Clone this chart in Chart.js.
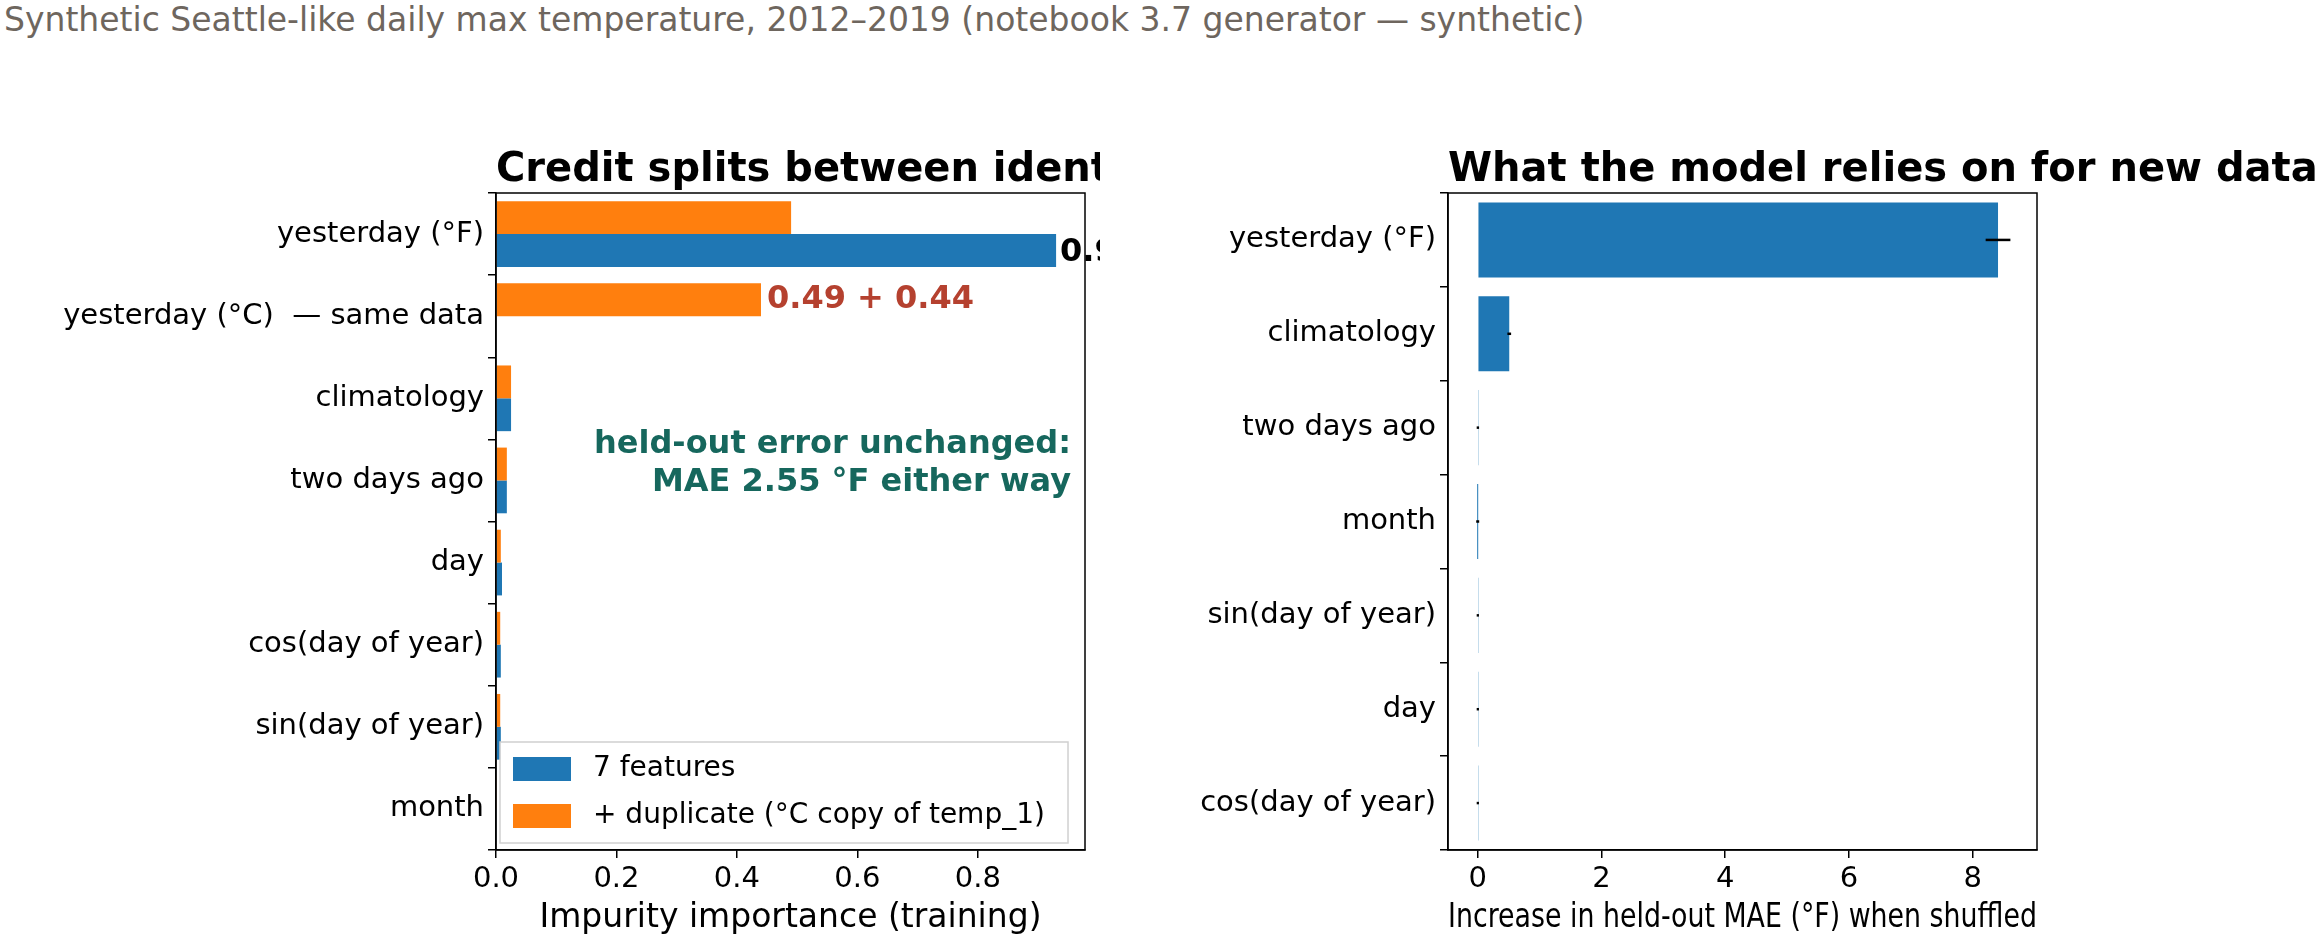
<!DOCTYPE html>
<html>
<head>
<meta charset="utf-8">
<script src="https://cdn.jsdelivr.net/npm/chart.js@4"></script>
<style>
  body { margin: 0; background: #fff; width: 2315px; height: 942px; position: relative; overflow: hidden; font-family: 'DejaVu Sans', sans-serif; }
  #suptitle { position: absolute; left: 4px; top: 0px; font-size: 33px; color: #6e665e; white-space: nowrap; }
  canvas { position: absolute; top: 0; }
</style>
</head>
<body>
<div id="suptitle">Synthetic Seattle-like daily max temperature, 2012–2019 (notebook 3.7 generator — synthetic)</div>
<canvas id="impurity" width="1100" height="942" style="left:0;width:1100px;height:942px"></canvas>
<canvas id="permutation" width="1215" height="942" style="left:1100px;width:1215px;height:942px"></canvas>
<script>
'use strict';

const impurityLabels = ['yesterday (°F)', 'yesterday (°C)  — same data', 'climatology', 'two days ago', 'day', 'cos(day of year)', 'sin(day of year)', 'month'];
const sevenFeatures = [0.93, null, 0.025, 0.018, 0.010, 0.008, 0.008, 0.001];
const withDuplicate = [0.49, 0.44, 0.025, 0.018, 0.008, 0.007, 0.007, 0.001];
const impurityTicks = [0, 0.2, 0.4, 0.6, 0.8];

const permLabels = ['yesterday (°F)', 'climatology', 'two days ago', 'month', 'sin(day of year)', 'day', 'cos(day of year)'];
const permMeans = [8.41, 0.51, 0.003, 0.0, 0.002, 0.002, 0.002];
const permStd = [0.2, 0.03, 0.005, 0.0, 0.006, 0.006, 0.006];
const permTicks = [0, 2, 4, 6, 8];

const BLUE = '#1f77b4';
const ORANGE = '#ff7f0e';
const FONT = "'DejaVu Sans', sans-serif";
Chart.defaults.font.family = FONT;
Chart.defaults.color = '#000';

function frameAndTitle(title) {
  return {
    id: 'frameAndTitle',
    afterDraw(chart) {
      const { ctx, chartArea: a } = chart;
      ctx.save();
      ctx.strokeStyle = '#000';
      ctx.lineWidth = 1.5;
      ctx.strokeRect(a.left, a.top, a.right - a.left, a.bottom - a.top);
      ctx.font = 'bold 40px ' + FONT;
      ctx.fillStyle = '#000';
      ctx.textAlign = 'left';
      ctx.textBaseline = 'alphabetic';
      ctx.fillText(title, a.left, a.top - 12);
      ctx.restore();
    }
  };
}

function axisOptions(min, max, ticks, fmt, title, yWidth) {
  return {
    x: {
      type: 'linear', min, max,
      afterBuildTicks: s => { s.ticks = ticks.map(v => ({ value: v })); },
      afterFit: s => { s.height = 92; },
      ticks: { font: { size: 29 }, callback: fmt, padding: 4, maxRotation: 0 },
      grid: { display: true, drawOnChartArea: false, tickLength: 8, color: '#000', lineWidth: 1.5 },
      border: { display: true, color: '#000', width: 1.5 },
      title: { display: true, text: title, font: { size: 33 }, padding: { top: 4 } }
    },
    y: {
      afterFit: s => { s.width = yWidth; },
      ticks: { font: { size: 29 }, padding: 4, autoSkip: false },
      grid: { display: true, drawOnChartArea: false, tickLength: 8, color: '#000', lineWidth: 1.5 },
      border: { display: true, color: '#000', width: 1.5 }
    }
  };
}

const impurityNotes = {
  id: 'impurityNotes',
  afterDraw(chart) {
    const { ctx, chartArea: a } = chart;
    const dup = chart.getDatasetMeta(0).data;
    const seven = chart.getDatasetMeta(1).data;
    ctx.save();
    ctx.textBaseline = 'middle';
    ctx.textAlign = 'left';
    ctx.font = 'bold 32px ' + FONT;
    ctx.fillStyle = '#000';
    ctx.fillText(sevenFeatures[0].toFixed(2), seven[0].x + 4, seven[0].y + 2);
    ctx.fillStyle = '#b5412f';
    ctx.fillText(withDuplicate[0].toFixed(2) + ' + ' + withDuplicate[1].toFixed(2), dup[1].x + 6, dup[1].y);
    ctx.fillStyle = '#16675d';
    ctx.textAlign = 'right';
    ctx.fillText('held-out error unchanged:', a.right - 14, 445);
    ctx.fillText('MAE 2.55 °F either way', a.right - 14, 483);
    // legend
    const lx = a.left + 4, ly = 742, lw = 568, lh = 101;
    ctx.fillStyle = 'rgba(255,255,255,0.85)';
    ctx.strokeStyle = '#d0d0d0';
    ctx.lineWidth = 1.5;
    ctx.fillRect(lx, ly, lw, lh);
    ctx.strokeRect(lx, ly, lw, lh);
    const entries = [[BLUE, '7 features'], [ORANGE, '+ duplicate (°C copy of temp_1)']];
    ctx.font = '28px ' + FONT;
    ctx.textAlign = 'left';
    entries.forEach(([c, t], i) => {
      const y = ly + 27 + i * 47;
      ctx.fillStyle = c;
      ctx.fillRect(lx + 13, y - 12, 58, 24);
      ctx.fillStyle = '#000';
      ctx.fillText(t, lx + 93, y);
    });
    ctx.restore();
  }
};

const errorBars = {
  id: 'errorBars',
  afterDatasetsDraw(chart) {
    const { ctx } = chart;
    const xs = chart.scales.x;
    const bars = chart.getDatasetMeta(0).data;
    ctx.save();
    ctx.strokeStyle = '#000';
    ctx.lineWidth = 2.5;
    bars.forEach((b, i) => {
      const lo = xs.getPixelForValue(permMeans[i] - permStd[i]);
      const hi = xs.getPixelForValue(permMeans[i] + permStd[i]);
      ctx.beginPath();
      ctx.moveTo(Math.min(lo, hi - 1.5), b.y);
      ctx.lineTo(Math.max(hi, lo + 1.5), b.y);
      ctx.stroke();
    });
    ctx.restore();
  }
};

new Chart(document.getElementById('impurity'), {
  type: 'bar',
  data: {
    labels: impurityLabels,
    datasets: [
      { label: '+ duplicate (°C copy of temp_1)', data: withDuplicate, backgroundColor: ORANGE, categoryPercentage: 0.8, barPercentage: 1.0 },
      { label: '7 features', data: sevenFeatures, backgroundColor: BLUE, categoryPercentage: 0.8, barPercentage: 1.0 }
    ]
  },
  options: {
    indexAxis: 'y',
    responsive: false,
    animation: false,
    devicePixelRatio: 1,
    layout: { padding: { top: 193, right: 15, left: 0, bottom: 0 } },
    plugins: { legend: { display: false }, tooltip: { enabled: false } },
    scales: axisOptions(0, 0.978, impurityTicks, v => v.toFixed(1), 'Impurity importance (training)', 496)
  },
  plugins: [frameAndTitle('Credit splits between identical twins'), impurityNotes]
});

new Chart(document.getElementById('permutation'), {
  type: 'bar',
  data: {
    labels: permLabels,
    datasets: [
      { label: 'permutation importance', data: permMeans, backgroundColor: BLUE, categoryPercentage: 1.0, barPercentage: 0.8, minBarLength: 1 }
    ]
  },
  options: {
    indexAxis: 'y',
    responsive: false,
    animation: false,
    devicePixelRatio: 1,
    layout: { padding: { top: 193, right: 278, left: 0, bottom: 0 } },
    plugins: { legend: { display: false }, tooltip: { enabled: false } },
    scales: axisOptions(-0.48, 9.04, permTicks, v => String(v), 'Increase in held-out MAE (°F) when shuffled', 348)
  },
  plugins: [frameAndTitle('What the model relies on for new data'), errorBars]
});
</script>
</body>
</html>
